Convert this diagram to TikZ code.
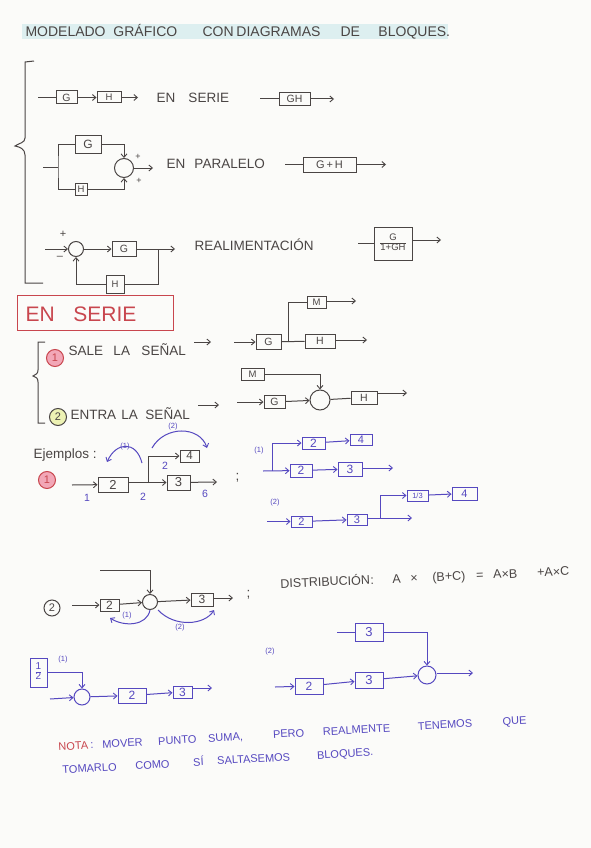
\documentclass[tikz,border=0pt]{standalone}
\usepackage{fontspec}
\setmainfont{Liberation Sans}
\usetikzlibrary{arrows.meta}
\definecolor{ink}{HTML}{4A4544}
\definecolor{blu}{HTML}{5548C0}
\definecolor{rd}{HTML}{C8464E}
\definecolor{pk}{HTML}{F2A7B7}
\definecolor{yl}{HTML}{EDF2B4}
\definecolor{hl}{HTML}{DDEFF0}
\definecolor{paper}{HTML}{FBFBF9}
\newcommand{\wrd}[2]{\makebox[#1pt][l]{#2}}
\begin{document}
\begin{tikzpicture}[x=1pt,y=-1pt,line width=1pt,
  arr/.style={-{Straight Barb[length=3.5pt,width=6pt,line width=0.9pt]}},
  bx/.style 2 args={draw, inner sep=0pt, minimum width=#1pt, minimum height=#2pt, font=\fontsize{10.5}{10.5}\selectfont},
  sj/.style={circle, draw, inner sep=0pt, minimum size=#1pt},
  txt/.style={anchor=west, inner sep=0pt, font=\fontsize{13.5}{13.5}\selectfont},
  lbl/.style={inner sep=0pt, font=\fontsize{9}{9}\selectfont},
  sml/.style={inner sep=0pt, font=\fontsize{7.5}{7.5}\selectfont}]
\fill[paper] (0,0) rectangle (591,848);
\useasboundingbox (0,0) rectangle (591,848);
% title
\fill[hl] (22,24) rectangle (448,39);
\begin{scope}[ink]
\node[txt, font=\fontsize{14}{14}\selectfont] (title) at (25,32) {\wrd{88}{MODELADO}\wrd{89}{GRÁFICO}\wrd{34}{CON}\wrd{104}{DIAGRAMAS}\wrd{38}{DE}BLOQUES.};
% bracket 1
\draw (34,61) -- (25,62) -- (25,138) .. controls (25,143) and (19,143) .. (15,146) .. controls (20,147) and (25,149) .. (25,155) -- (25,283) -- (43,283);
% row 1 series
\node[bx={21}{13}] (g1) at (66.5,97.5) {G};
\node[bx={24}{11}, font=\fontsize{9.5}{9.5}\selectfont] (h1) at (109,97.5) {H};
\coordinate (i1) at (38,97.5);
\coordinate (o1) at (138,97.5);
\draw (i1) -- (g1);
\draw[arr] (g1) -- (h1);
\draw[arr] (h1) -- (o1);
\node[txt] (t1) at (156,98) {\wrd{32}{EN}SERIE};
\node[bx={31}{13}] (gh) at (294.5,99) {GH};
\coordinate (i1b) at (260,99);
\coordinate (o1b) at (334,99);
\draw (i1b) -- (gh);
\draw[arr] (gh) -- (o1b);
% row 2 parallel
\node[bx={26}{18}, font=\fontsize{12}{12}\selectfont] (g2) at (88,144) {G};
\node[bx={12}{12}, font=\fontsize{9.5}{9.5}\selectfont] (h2) at (81,189) {H};
\node[sj=19] (s2) at (124,168) {};
\coordinate (i2) at (43,167);
\coordinate (b2) at (58,167);
\draw (i2) -- (b2);
\draw (g2.west) -| (b2) |- (h2.west);
\draw[arr] (g2.east) -| (s2.north);
\draw[arr] (h2.east) -| (s2.south);
\coordinate (o2) at (153,168);
\draw[arr] (s2) -- (o2);
\node[lbl] (p2a) at (138,157) {+};
\node[lbl] (p2b) at (139,181) {+};
\node[txt] (t2) at (166,164) {\wrd{28}{EN}PARALELO};
\node[bx={53}{15}, font=\fontsize{11}{11}\selectfont] (gph) at (329.5,164.5) {G\,+\,H};
\coordinate (i2b) at (285,164.5);
\coordinate (o2b) at (386,164.5);
\draw (i2b) -- (gph);
\draw[arr] (gph) -- (o2b);
% row 3 feedback
\node[sj=15] (s3) at (76,249) {};
\node[bx={24}{15}] (g3) at (124,249) {G};
\node[bx={18}{18}, font=\fontsize{9.5}{9.5}\selectfont] (h3) at (115,284) {H};
\coordinate (i3) at (45,249);
\coordinate (o3) at (175,249);
\coordinate (t3) at (158,249);
\draw[arr] (i3) -- (s3);
\draw[arr] (s3) -- (g3);
\draw[arr] (g3) -- (o3);
\draw (t3) |- (h3.east);
\draw[arr] (h3.west) -| (s3.south);
\node[lbl, font=\fontsize{11}{11}\selectfont] (p3) at (63,234) {+};
\node[lbl, font=\fontsize{11}{11}\selectfont] (m3) at (60,258) {--};
\node[txt] (t3t) at (194,245) {REALIMENTACIÓN};
\node[bx={38}{33}, font=\fontsize{9.5}{10}\selectfont] (gf) at (393,243.5) {\begin{tabular}{@{}c@{}}G\\\hline 1+GH\end{tabular}};
\coordinate (i3b) at (358,243.5);
\coordinate (o3b) at (441,240);
\draw (i3b) -- (gf);
\draw[arr] (gf.east |- o3b) -- (o3b);
\end{scope}
% EN SERIE box
\node[draw=rd, minimum width=156pt, minimum height=35pt, inner sep=0pt] (ensb) at (95,312.5) {};
\node[txt, rd, font=\fontsize{21}{21}\selectfont] (ens) at (25,314) {\wrd{48}{EN}SERIE};
\begin{scope}[ink]
% bracket 2
\draw (45,342) -- (38,342) -- (38,370) .. controls (38,374) and (36,374) .. (33,376) .. controls (36,377) and (38,378) .. (38,382) -- (38,423) -- (45,423);
\node[sj=17, draw=rd, fill=pk, text=rd, font=\fontsize{11}{11}\selectfont] (c1) at (55,358) {1};
\node[txt] (t4) at (68,350) {\wrd{45}{SALE}\wrd{28}{LA}SEÑAL};
\coordinate (a4s) at (194,342);
\coordinate (a4e) at (211,342);
\draw[arr] (a4s) -- (a4e);
% diagram A
\node[bx={25}{15}] (gA) at (268.5,342) {G};
\node[bx={30}{14}] (hA) at (320,341) {H};
\node[bx={19}{12}, font=\fontsize{9.5}{9.5}\selectfont] (mA) at (316.5,302) {M};
\coordinate (iA) at (234,342);
\coordinate (bA) at (288,342);
\coordinate (oA) at (367,340);
\coordinate (oM) at (356,301);
\draw[arr] (iA) -- (gA);
\draw (gA) -- (hA);
\draw (bA) |- (mA.west);
\draw[arr] (hA.east |- oA) -- (oA);
\draw[arr] (mA.east |- oM) -- (oM);
% entra
\node[sj=17, fill=yl, font=\fontsize{11}{11}\selectfont] (c2) at (58,417) {2};
\node[txt] (t5) at (70,414) {\wrd{51}{ENTRA}\wrd{24}{LA}SEÑAL};
\coordinate (a5s) at (198,405);
\coordinate (a5e) at (219,405);
\draw[arr] (a5s) -- (a5e);
% diagram B
\node[bx={23}{12}, font=\fontsize{9.5}{9.5}\selectfont] (mB) at (252.5,374) {M};
\node[bx={21}{13}] (gB) at (274.5,402) {G};
\node[sj=20] (sB) at (320,400) {};
\node[bx={26}{13}] (hB) at (364,397.5) {H};
\coordinate (iB) at (237,402);
\coordinate (oB) at (407,393);
\draw[arr] (iB) -- (gB);
\draw[arr] (gB) -- (sB);
\draw[arr] (mB.east) -| (sB.north);
\draw (sB) -- (hB);
\draw[arr] (hB.east |- oB) -- (oB);
% Ejemplos
\node[txt] (ej) at (33,455) {Ejemplos :};
\node[sj=17, draw=rd, fill=pk, text=rd, font=\fontsize{11}{11}\selectfont] (c3) at (47,480) {1};
\node[bx={30}{15}, font=\fontsize{13}{13}\selectfont] (e2) at (113,484.5) {2};
\node[bx={23}{15}, font=\fontsize{13}{13}\selectfont] (e3) at (178.5,482.5) {3};
\node[bx={19}{12}, font=\fontsize{11.5}{11.5}\selectfont] (e4) at (189.5,456) {4};
\coordinate (ie) at (72,485);
\coordinate (be) at (148,483);
\coordinate (oe) at (217,482);
\draw[arr] (ie) -- (e2);
\draw[arr] (e2.east |- e3) -- (e3);
\draw[arr] (be) |- (e4.west);
\draw[arr] (e3) -- (oe);
\node[txt] (sc1) at (235,478) {;};
\end{scope}
\begin{scope}[blu]
\node[lbl, font=\fontsize{10.5}{10.5}\selectfont] (n1) at (87,498) {1};
\node[lbl, font=\fontsize{10.5}{10.5}\selectfont] (n2) at (143,497) {2};
\node[lbl, font=\fontsize{10.5}{10.5}\selectfont] (n3) at (165,466) {2};
\node[lbl, font=\fontsize{10.5}{10.5}\selectfont] (n6) at (205,494) {6};
\coordinate (cu1s) at (142,463);
\coordinate (cu1e) at (107,462);
\draw[arr] (cu1s) .. controls (136,440) and (116,442) .. (cu1e);
\node[sml] (l1) at (125,447) {(1)};
\coordinate (cu2s) at (152,448);
\coordinate (cu2e) at (207,448);
\draw[arr] (cu2s) .. controls (165,425) and (200,426) .. (cu2e);
\node[sml] (l2) at (173,427) {(2)};
% example (1) right
\node[sml] (l3) at (259,451) {(1)};
\node[bx={23}{12}, font=\fontsize{12}{12}\selectfont] (f2a) at (313.5,443) {2};
\node[bx={22}{11}, font=\fontsize{11}{11}\selectfont] (f4a) at (361,440) {4};
\node[bx={22}{13}, font=\fontsize{12}{12}\selectfont] (f2b) at (301,470.5) {2};
\node[bx={24}{14}, font=\fontsize{12}{12}\selectfont] (f3b) at (350,469) {3};
\coordinate (if) at (263,471);
\coordinate (bf) at (272,471);
\coordinate (of) at (393,468);
\draw[arr] (if) -- (f2b);
\draw[arr] (bf) |- (f2a.west);
\draw[arr] (f2a) -- (f4a);
\draw[arr] (f2b) -- (f3b);
\draw[arr] (f3b.east |- of) -- (of);
% example (2) right
\node[sml] (l4) at (275,503) {(2)};
\node[bx={21}{11}, font=\fontsize{11}{11}\selectfont] (k2) at (301.5,521.5) {2};
\node[bx={20}{11}, font=\fontsize{11}{11}\selectfont] (k3) at (357,519.5) {3};
\node[bx={21}{11}, font=\fontsize{7.5}{7.5}\selectfont] (k13) at (417.5,495.5) {1/3};
\node[bx={25}{13}, font=\fontsize{11}{11}\selectfont] (k4) at (464.5,493.5) {4};
\coordinate (ik) at (267,521.5);
\coordinate (bk) at (380,518);
\coordinate (ok) at (412,518);
\draw[arr] (ik) -- (k2);
\draw[arr] (k2) -- (k3);
\draw[arr] (k3.east |- ok) -- (ok);
\draw[arr] (bk) |- (k13.west);
\draw[arr] (k13) -- (k4);
\end{scope}
% example 2
\begin{scope}[ink]
\node[sj=16, font=\fontsize{11}{11}\selectfont] (c4) at (52,608) {2};
\node[bx={19}{12}, font=\fontsize{12}{12}\selectfont] (q2) at (109.5,605) {2};
\node[sj=15] (qs) at (150,602) {};
\node[bx={22}{13}, font=\fontsize{12}{12}\selectfont] (q3) at (202,599.5) {3};
\coordinate (iq) at (72,605);
\coordinate (tq) at (100,570);
\coordinate (oq) at (233,598);
\draw[arr] (iq) -- (q2);
\draw[arr] (q2) -- (qs);
\draw[arr] (tq) -| (qs.north);
\draw[arr] (qs) -- (q3);
\draw[arr] (q3.east |- oq) -- (oq);
\node[txt] (sc2) at (246,595) {;};
\node[txt, font=\fontsize{12.5}{12.5}\selectfont, rotate=2.5] (dist) at (280,584) {\wrd{90}{DISTRIBUCIÓN}\wrd{22}{:}\wrd{18}{A}\wrd{22}{×}\wrd{44}{(B+C)}\wrd{17}{=}\wrd{44}{A×B}+A×C};
\end{scope}
\begin{scope}[blu]
\coordinate (cv1e) at (110,618);
\draw[arr] (qs.south) .. controls (147,626) and (124,627) .. (cv1e);
\node[sml] (l5) at (127,616) {(1)};
\coordinate (cv2s) at (158,610);
\coordinate (cv2e) at (214,610);
\draw[arr] (cv2s) .. controls (175,628) and (205,625) .. (cv2e);
\node[sml] (l6) at (180,628) {(2)};
% bottom left
\node[bx={17}{29}, font=\fontsize{10}{10}\selectfont] (fr) at (38.5,672.5) {\begin{tabular}{@{}c@{}}1\\\hline 2\end{tabular}};
\node[sml] (l7) at (63,660) {(1)};
\node[sj=16] (bs) at (82,697) {};
\node[bx={28}{15}, font=\fontsize{12}{12}\selectfont] (bb2) at (132,695.5) {2};
\node[bx={19}{12}, font=\fontsize{12}{12}\selectfont] (bb3) at (182.5,692) {3};
\coordinate (ib) at (50,699);
\coordinate (ob) at (212,688);
\draw[arr] (fr.east) -| (bs.north);
\draw[arr] (ib) -- (bs);
\draw[arr] (bs) -- (bb2);
\draw[arr] (bb2) -- (bb3);
\draw[arr] (bb3.east |- ob) -- (ob);
% bottom right (2)
\node[sml] (l8) at (270,652) {(2)};
\node[bx={28}{18}, font=\fontsize{13}{13}\selectfont] (u3t) at (369,632) {3};
\node[sj=18] (us) at (427,675) {};
\node[bx={28}{16}, font=\fontsize{12}{12}\selectfont] (u2) at (309,686) {2};
\node[bx={28}{16}, font=\fontsize{13}{13}\selectfont] (u3) at (369,680) {3};
\coordinate (iu) at (337,632);
\coordinate (ibu) at (275,687);
\coordinate (ou) at (473,673);
\draw (iu) -- (u3t);
\draw[arr] (u3t.east) -| (us.north);
\draw[arr] (ibu) -- (u2);
\draw[arr] (u2) -- (u3);
\draw[arr] (u3) -- (us);
\draw[arr] (us.east |- ou) -- (ou);
% nota
\node[txt, font=\fontsize{11}{11}\selectfont, rotate=3.3] (nota1) at (58,748) {\wrd{32}{\textcolor{rd}{NOTA}}\wrd{12}{:}\wrd{56}{MOVER}\wrd{50}{PUNTO}\wrd{65}{SUMA,}\wrd{50}{PERO}\wrd{95}{REALMENTE}\wrd{85}{TENEMOS}QUE};
\node[txt, font=\fontsize{11}{11}\selectfont, rotate=3.3] (nota2) at (62,770) {\wrd{73}{TOMARLO}\wrd{58}{COMO}\wrd{24}{SÍ}\wrd{100}{SALTASEMOS}BLOQUES.};
\end{scope}
\end{tikzpicture}
\end{document}
